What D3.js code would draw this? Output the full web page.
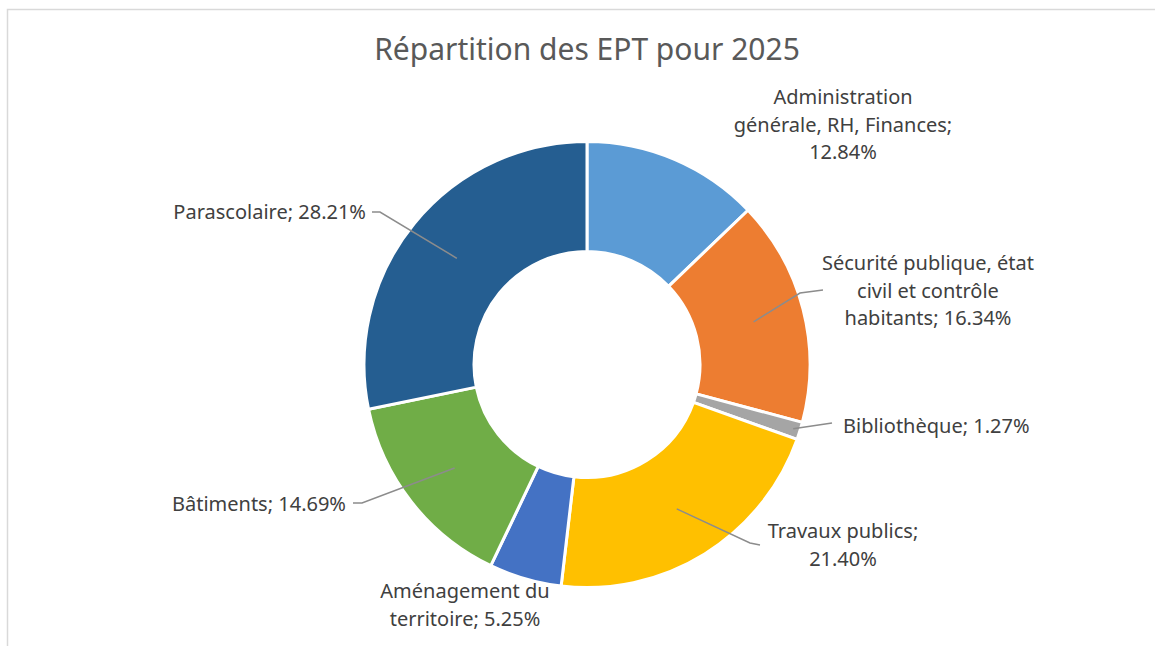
<!DOCTYPE html>
<html><head><meta charset="utf-8">
<script src="https://cdn.jsdelivr.net/npm/d3@7"></script>
<style>
html,body{margin:0;padding:0;background:#fff;}
svg{display:block;font-family:"Noto Sans","Open Sans",sans-serif;}
</style></head>
<body><svg id="chart" width="1155" height="646"></svg>
<script>
const title = "Répartition des EPT pour 2025";
const categories = ["Administration générale, RH, Finances","Sécurité publique, état civil et contrôle habitants","Bibliothèque","Travaux publics","Aménagement du territoire","Bâtiments","Parascolaire"];
const values = [12.84, 16.34, 1.27, 21.40, 5.25, 14.69, 28.21];
const labelLines = [
  ["Administration","générale, RH, Finances;","12.84%"],
  ["Sécurité publique, état","civil et contrôle","habitants; 16.34%"],
  ["Bibliothèque; 1.27%"],
  ["Travaux publics;","21.40%"],
  ["Aménagement du","territoire; 5.25%"],
  ["Bâtiments; 14.69%"],
  ["Parascolaire; 28.21%"]
];
const colors = ["#5B9BD5","#ED7D31","#A5A5A5","#FFC000","#4472C4","#70AD47","#255E91"];

// layout (label anchors & leader elbows), not data
const cx = 587, cy = 364.5, R = 223, r0 = 113;
const layout = [
  {x:843, y:99,  anchor:"middle", leader:null},
  {x:928, y:265, anchor:"middle", leader:{startR:172, pts:[[800,293],[823,290]]}},
  {x:843, y:428, anchor:"start",  leader:{startR:216, pts:[[832,423]]}},
  {x:843, y:533, anchor:"middle", leader:{startR:170, pts:[[750,543],[760,545]]}},
  {x:465, y:593, anchor:"middle", leader:null},
  {x:346, y:506, anchor:"end",    leader:{startR:168, pts:[[362,503],[353,503]]}},
  {x:366, y:214, anchor:"end",    leader:{startR:168, pts:[[380,212],[372,212]]}}
];

const svg = d3.select("#chart");
// frame
svg.append("path").attr("d","M7.5,646 V9.5 H1155").attr("fill","none").attr("stroke","#d9d9d9").attr("stroke-width",1.5);

svg.append("text").attr("x",587).attr("y",52).attr("text-anchor","middle")
  .attr("dominant-baseline","middle").attr("font-size",30).attr("fill","#595959").text(title);

const data = categories.map((c,i)=>({cat:c, value:values[i], color:colors[i], lines:labelLines[i], lay:layout[i]}));
const pie = d3.pie().value(d=>d.value).sort(null);
const arcs = pie(data);
const arc = d3.arc().innerRadius(r0).outerRadius(R);

const g = svg.append("g").attr("transform",`translate(${cx},${cy})`);
g.selectAll("path.slice").data(arcs).join("path").attr("class","slice")
  .attr("d",arc).attr("fill",d=>d.data.color).attr("stroke","#fff").attr("stroke-width",3).attr("stroke-linejoin","round");

// leader lines
arcs.forEach(a=>{
  const L = a.data.lay.leader;
  if(!L) return;
  const mid = (a.startAngle+a.endAngle)/2;
  const sx = cx + L.startR*Math.sin(mid), sy = cy - L.startR*Math.cos(mid);
  const pts = [[sx,sy]].concat(L.pts);
  svg.append("path").attr("d", d3.line()(pts)).attr("fill","none").attr("stroke","#8c8c8c").attr("stroke-width",1.5);
});

// labels
arcs.forEach(a=>{
  const lay = a.data.lay;
  const t = svg.append("text").attr("text-anchor",lay.anchor).attr("font-size",20).attr("fill","#404040");
  a.data.lines.forEach((ln,i)=>{
    t.append("tspan").attr("x",lay.x).attr("y",lay.y + i*27.5).attr("dominant-baseline","middle").text(ln);
  });
});
</script></body></html>
